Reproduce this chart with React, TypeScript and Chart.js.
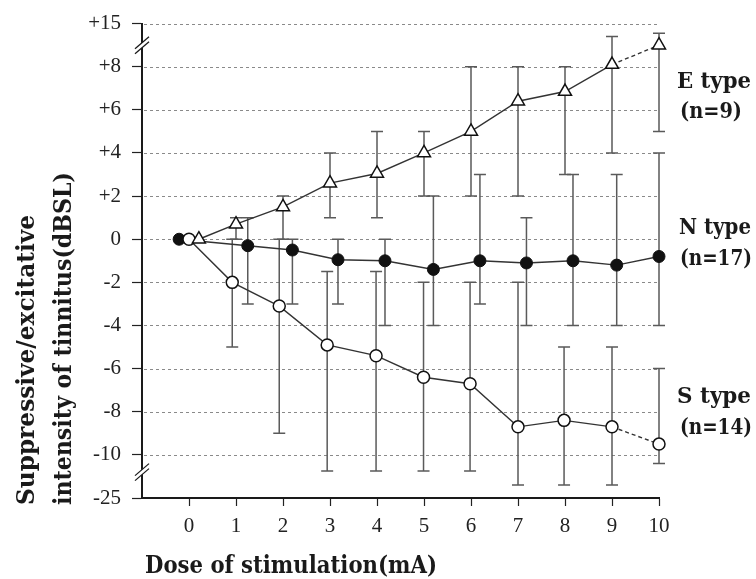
import React, { useEffect, useRef } from 'react';
import { Chart, registerables } from 'chart.js';
Chart.register(...registerables);

// Dose of stimulation (mA)
const doses = [0, 1, 2, 3, 4, 5, 6, 7, 8, 9, 10];
// small horizontal shifts (in mA units) used in the figure to separate the groups
const eShift = [0.21, 0, 0, 0, 0, 0, 0, 0, 0, 0, 0];
const sShift = [0, -0.08, -0.08, -0.06, -0.02, -0.01, -0.02, 0, -0.02, 0, 0];
const nShift = [-0.21, 0.25, 0.2, 0.17, 0.17, 0.2, 0.19, 0.18, 0.17, 0.1, 0];

// Values on the (broken) axis scale: +15 is drawn at position 10, -25 at position -12
const eMean = [0, 0.7, 1.5, 2.6, 3.05, 4, 5, 6.4, 6.85, 8.1, 9];
const eLow = [null, 0, 0, 1, 1, 2, 2, 2, 3, 4, 5];
const eHigh = [null, 1, 2, 4, 5, 5, 8, 8, 8, 9.4, 9.55];

const sMean = [0, -2, -3.1, -4.9, -5.4, -6.4, -6.7, -8.7, -8.4, -8.7, -9.5];
const sLow = [null, -5, -9, -10.75, -10.75, -10.75, -10.75, -11.4, -11.4, -11.4, -10.4];
const sHigh = [null, 0, 0, -1.5, -1.5, -2, -2, -2, -5, -5, -6];

const nMean = [0, -0.3, -0.5, -0.95, -1, -1.4, -1, -1.1, -1, -1.2, -0.8];
const nLow = [null, -3, -3, -3, -4, -4, -3, -4, -4, -4, -4];
const nHigh = [null, 1, 0, 0, 0, 2, 3, 1, 3, 3, 4];

const yTickValues = [-12, -10, -8, -6, -4, -2, 0, 2, 4, 6, 8, 10];
const yTickText = ['-25', '-10', '-8', '-6', '-4', '-2', '0', '+2', '+4', '+6', '+8', '+15'];
const breakValues = [9, -10.8];

const groupLabels = ['E type', 'N type', 'S type'];
const groupCounts = ['(n=9)', '(n=17)', '(n=14)'];
const xTitle = 'Dose of stimulation(mA)';
const yTitle1 = 'Suppressive/excitative';
const yTitle2 = 'intensity of tinnitus(dBSL)';

const TITLE_FONT = '"DejaVu Serif", serif';
const TICK_FONT = '"Liberation Serif", serif';

function fitText(ctx: CanvasRenderingContext2D, text: string, x: number, y: number, width: number, font: string, rotate = false) {
  ctx.save();
  ctx.font = font;
  ctx.textAlign = 'left';
  ctx.textBaseline = 'alphabetic';
  const w = ctx.measureText(text).width;
  const k = width / w;
  ctx.translate(x, y);
  if (rotate) ctx.rotate(-Math.PI / 2);
  ctx.scale(k, 1);
  ctx.fillStyle = '#1a1a1a';
  ctx.fillText(text, 0, 0);
  ctx.restore();
}

const series = [
  { shift: eShift, low: eLow, high: eHigh },
  { shift: sShift, low: sLow, high: sHigh },
  { shift: nShift, low: nLow, high: nHigh },
];

const backgroundPlugin = {
  id: 'bgGridBars',
  beforeDatasetsDraw(chart: any) {
    const { ctx, chartArea, scales } = chart;
    const xs = scales.x;
    const ys = scales.y;
    ctx.save();
    // dashed grid lines
    ctx.strokeStyle = '#8a8a8a';
    ctx.lineWidth = 1;
    ctx.setLineDash([3, 3]);
    yTickValues.forEach((v) => {
      if (v === yTickValues[0]) return;
      const y = Math.round(ys.getPixelForValue(v)) + 0.5;
      ctx.beginPath();
      ctx.moveTo(chartArea.left + 2, y);
      ctx.lineTo(chartArea.right, y);
      ctx.stroke();
    });
    ctx.setLineDash([]);
    // error bars
    ctx.strokeStyle = '#5a5a5a';
    ctx.lineWidth = 1.5;
    series.forEach((s) => {
      doses.forEach((d, i) => {
        const lo = s.low[i];
        const hi = s.high[i];
        if (lo === null || hi === null) return;
        const x = xs.getPixelForValue(d + s.shift[i]);
        const y1 = ys.getPixelForValue(lo);
        const y2 = ys.getPixelForValue(hi);
        ctx.beginPath();
        ctx.moveTo(x, y1);
        ctx.lineTo(x, y2);
        ctx.moveTo(x - 6, y1);
        ctx.lineTo(x + 6, y1);
        ctx.moveTo(x - 6, y2);
        ctx.lineTo(x + 6, y2);
        ctx.stroke();
      });
    });
    ctx.restore();
  },
  afterDraw(chart: any) {
    const { ctx, chartArea, scales } = chart;
    const ys = scales.y;
    const ax = chartArea.left;
    // axis breaks
    breakValues.forEach((v) => {
      const y = ys.getPixelForValue(v);
      ctx.save();
      ctx.fillStyle = '#ffffff';
      ctx.beginPath();
      ctx.moveTo(ax - 7, y + 6 - 2.5);
      ctx.lineTo(ax + 7, y - 6 - 2.5);
      ctx.lineTo(ax + 7, y - 6 + 2.5);
      ctx.lineTo(ax - 7, y + 6 + 2.5);
      ctx.closePath();
      ctx.fill();
      ctx.strokeStyle = '#1a1a1a';
      ctx.lineWidth = 1.3;
      [-2.5, 2.5].forEach((o) => {
        ctx.beginPath();
        ctx.moveTo(ax - 7, y + 6 + o);
        ctx.lineTo(ax + 7, y - 6 + o);
        ctx.stroke();
      });
      ctx.restore();
    });
    // group labels on the right
    const lbl = 'bold 22px ' + TITLE_FONT;
    fitText(ctx, groupLabels[0], 677, 87.5, 74, lbl);
    fitText(ctx, groupCounts[0], 680, 118, 62, lbl);
    fitText(ctx, groupLabels[1], 679, 233.5, 72, lbl);
    fitText(ctx, groupCounts[1], 680, 265, 72, lbl);
    fitText(ctx, groupLabels[2], 677, 403, 74, lbl);
    fitText(ctx, groupCounts[2], 680, 433.5, 72, lbl);
    // axis titles
    const tf = 'bold 24px ' + TITLE_FONT;
    fitText(ctx, xTitle, 145, 573, 292, tf);
    fitText(ctx, yTitle1, 34, 505, 290, tf, true);
    fitText(ctx, yTitle2, 71, 505, 333, tf, true);
  },
};

const toPts = (mean: number[], shift: number[]) => doses.map((d, i) => ({ x: d + shift[i], y: mean[i] }));
const dashLast = { borderDash: (c: any) => (c.p0DataIndex === 9 ? [4, 3] : undefined) };

export default function App() {
  const ref = useRef<HTMLCanvasElement | null>(null);
  useEffect(() => {
    document.body.style.margin = '0';
    const canvas = ref.current;
    if (!canvas) return;
    const chart = new Chart(canvas, {
      type: 'line',
      data: {
        datasets: [
          {
            label: 'E type',
            data: toPts(eMean, eShift),
            borderColor: '#333',
            borderWidth: 1.4,
            pointStyle: 'triangle',
            pointRadius: 7.5,
            pointBorderWidth: 1.5,
            pointBackgroundColor: '#fff',
            pointBorderColor: '#111',
            order: 0,
            clip: false,
            segment: dashLast,
          },
          {
            label: 'S type',
            data: toPts(sMean, sShift),
            borderColor: '#333',
            borderWidth: 1.4,
            pointStyle: 'circle',
            pointRadius: 6,
            pointBorderWidth: 1.5,
            pointBackgroundColor: '#fff',
            pointBorderColor: '#111',
            order: 1,
            clip: false,
            segment: dashLast,
          },
          {
            label: 'N type',
            data: toPts(nMean, nShift),
            borderColor: '#333',
            borderWidth: 1.4,
            pointStyle: 'circle',
            pointRadius: 6,
            pointBorderWidth: 1,
            pointBackgroundColor: '#111',
            pointBorderColor: '#111',
            order: 2,
            clip: false,
          },
        ],
      } as any,
      options: {
        animation: false,
        responsive: false,
        events: [],
        layout: { padding: { left: 0, top: 20, right: 97, bottom: 0 } },
        plugins: { legend: { display: false }, tooltip: { enabled: false } },
        scales: {
          x: {
            type: 'linear',
            min: -1,
            max: 10,
            afterBuildTicks: (s: any) => {
              s.ticks = doses.map((d) => ({ value: d }));
            },
            afterFit: (s: any) => {
              s.height = 81;
            },
            ticks: {
              stepSize: 1,
              autoSkip: false,
              maxRotation: 0,
              padding: 8,
              color: '#222',
              font: { family: TICK_FONT, size: 21 },
            },
            grid: { display: true, drawOnChartArea: false, drawTicks: true, tickLength: 8, tickColor: '#222', tickWidth: 1.2 },
            border: { display: true, color: '#1a1a1a', width: 2 },
          },
          y: {
            type: 'linear',
            min: -12,
            max: 10,
            afterBuildTicks: (s: any) => {
              s.ticks = yTickValues.map((v) => ({ value: v }));
            },
            afterFit: (s: any) => {
              s.width = 142;
            },
            ticks: {
              autoSkip: false,
              padding: 11,
              color: '#222',
              font: { family: TICK_FONT, size: 21 },
              callback: (v: any) => {
                const idx = yTickValues.indexOf(Number(v));
                return idx >= 0 ? yTickText[idx] : '';
              },
            },
            grid: { display: true, drawOnChartArea: false, drawTicks: true, tickLength: 10, tickColor: '#222', tickWidth: 1.2 },
            border: { display: true, color: '#1a1a1a', width: 2 },
          },
        },
      } as any,
      plugins: [backgroundPlugin],
    });
    return () => chart.destroy();
  }, []);
  return <canvas ref={ref} width={756} height={579} style={{ display: 'block' }} />;
}
